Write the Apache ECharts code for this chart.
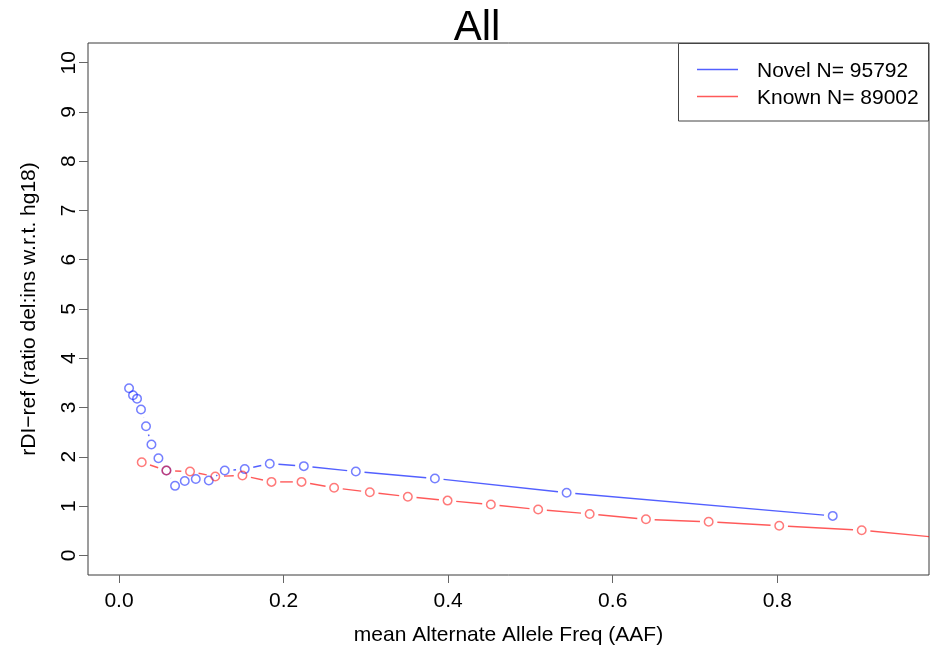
<!DOCTYPE html>
<html>
<head>
<meta charset="utf-8">
<script src="https://cdn.jsdelivr.net/npm/echarts@6/dist/echarts.min.js"></script>
<style>
html,body{margin:0;padding:0;background:#fff;}
#chart{width:930px;height:650px;}
</style>
</head>
<body>
<div id="chart"></div>
<script>
// ---- data ----
const titleText = "All";
const xAxisTitle = "mean Alternate Allele Freq (AAF)";
const yAxisTitle = "rDI\u2212ref (ratio del:ins w.r.t. hg18)";
const novelName = "Novel N= 95792";
const knownName = "Known N= 89002";

const novelX = [0.0122, 0.0170, 0.0219, 0.0267, 0.0328, 0.0394, 0.0479, 0.0576, 0.0681, 0.0799,
                0.0933, 0.1091, 0.1285, 0.1528, 0.1832, 0.2246, 0.2878, 0.3839, 0.5440, 0.8674];
const novelY = [3.39, 3.25, 3.18, 2.96, 2.62, 2.25, 1.97, 1.72, 1.41, 1.51,
                1.55, 1.52, 1.72, 1.75, 1.86, 1.81, 1.70, 1.56, 1.27, 0.80];

const knownX = [0.0276, 0.0576, 0.0863, 0.1170, 0.1500, 0.1853, 0.2218, 0.2614, 0.3048, 0.3510,
                0.3993, 0.4519, 0.5094, 0.5720, 0.6404, 0.7166, 0.8024, 0.9026, 1.0000];
const knownY = [1.89, 1.72, 1.70, 1.60, 1.62, 1.49, 1.49, 1.37, 1.28, 1.19,
                1.11, 1.03, 0.93, 0.84, 0.73, 0.68, 0.60, 0.51, 0.355];

const xTicks = [0, 0.2, 0.4, 0.6, 0.8];
const yTicks = [0, 1, 2, 3, 4, 5, 6, 7, 8, 9, 10];

// ---- styling ----
const BLUE = 'rgba(0,20,255,0.68)';
const RED = 'rgba(255,0,0,0.65)';
const FONT = "'Liberation Sans', Arial, Helvetica, sans-serif";
const GAP = 8.7; // R type="b" gap around points

function segments(xs, ys) {
  const out = [];
  for (let i = 0; i < xs.length - 1; i++) out.push([xs[i], ys[i], xs[i + 1], ys[i + 1]]);
  return out;
}
function gappedLine(color) {
  return function (params, api) {
    const p1 = api.coord([api.value(0), api.value(1)]);
    const p2 = api.coord([api.value(2), api.value(3)]);
    const dx = p2[0] - p1[0], dy = p2[1] - p1[1];
    const d = Math.sqrt(dx * dx + dy * dy);
    if (d <= 2 * GAP) return null;
    const ux = dx / d, uy = dy / d;
    return {
      type: 'line',
      shape: { x1: p1[0] + ux * GAP, y1: p1[1] + uy * GAP, x2: p2[0] - ux * GAP, y2: p2[1] - uy * GAP },
      style: { stroke: color, lineWidth: 1.4 }
    };
  };
}
function pts(xs, ys) { return xs.map((x, i) => [x, ys[i]]); }

const chart = echarts.init(document.getElementById('chart'), null, { renderer: 'canvas' });
chart.setOption({
  animation: false,
  backgroundColor: '#fff',
  grid: { left: 88, right: 1, top: 43, bottom: 75, show: true, borderColor: '#3a3a3a', borderWidth: 1,
          containLabel: false, outerBoundsMode: 'none' },
  xAxis: {
    type: 'value', min: -0.0377, max: 0.9844,
    name: xAxisTitle, nameLocation: 'middle', nameGap: 50,
    nameTextStyle: { fontSize: 21, fontFamily: FONT, color: '#000' },
    axisLine: { show: false, onZero: false },
    splitLine: { show: false },
    axisTick: { show: true, customValues: xTicks, length: 8, lineStyle: { color: '#666', width: 1 } },
    axisLabel: { customValues: xTicks, formatter: v => v.toFixed(1), fontSize: 21, fontFamily: FONT, color: '#000', margin: 16 }
  },
  yAxis: {
    type: 'value', min: -0.4, max: 10.4,
    name: yAxisTitle, nameLocation: 'middle', nameGap: 48, nameRotate: 90,
    nameTextStyle: { fontSize: 21, fontFamily: FONT, color: '#000' },
    axisLine: { show: false, onZero: false },
    splitLine: { show: false },
    axisTick: { show: true, customValues: yTicks, length: 9, lineStyle: { color: '#666', width: 1 } },
    axisLabel: { customValues: yTicks, rotate: 90, fontSize: 21, fontFamily: FONT, color: '#000', margin: 8 }
  },
  series: [
    {
      type: 'custom', name: novelName, clip: true,
      data: segments(novelX, novelY),
      encode: { x: [0, 2], y: [1, 3] },
      renderItem: gappedLine(BLUE), z: 2
    },
    {
      type: 'custom', name: knownName, clip: true,
      data: segments(knownX, knownY),
      encode: { x: [0, 2], y: [1, 3] },
      renderItem: gappedLine(RED), z: 2
    },
    {
      type: 'scatter', name: novelName, clip: true,
      data: pts(novelX, novelY), symbol: 'circle', symbolSize: 8.5,
      itemStyle: { color: 'rgba(0,0,0,0)', borderColor: BLUE, borderWidth: 1.5 }, z: 3
    },
    {
      type: 'scatter', name: knownName, clip: true,
      data: pts(knownX, knownY), symbol: 'circle', symbolSize: 8.5,
      itemStyle: { color: 'rgba(0,0,0,0)', borderColor: RED, borderWidth: 1.5 }, z: 3
    }
  ],
  graphic: [
    { type: 'text', x: 477, y: 28.5, style: { text: titleText, font: "42px " + FONT, fill: '#000', align: 'center', verticalAlign: 'middle' }, z: 10 },
    { type: 'rect', x: 678.5, y: 43.5, shape: { width: 250, height: 77.5 }, style: { fill: '#fff', stroke: '#444', lineWidth: 1 }, z: 10 },
    { type: 'line', shape: { x1: 697, y1: 69.5, x2: 738, y2: 69.5 }, style: { stroke: BLUE, lineWidth: 1.3 }, z: 11 },
    { type: 'line', shape: { x1: 697, y1: 96.5, x2: 738, y2: 96.5 }, style: { stroke: RED, lineWidth: 1.3 }, z: 11 },
    { type: 'text', x: 757, y: 71, style: { text: novelName, font: "21px " + FONT, fill: '#000', align: 'left', verticalAlign: 'middle' }, z: 11 },
    { type: 'text', x: 757, y: 98.5, style: { text: knownName, font: "21px " + FONT, fill: '#000', align: 'left', verticalAlign: 'middle' }, z: 11 }
  ]
});
</script>
</body>
</html>
